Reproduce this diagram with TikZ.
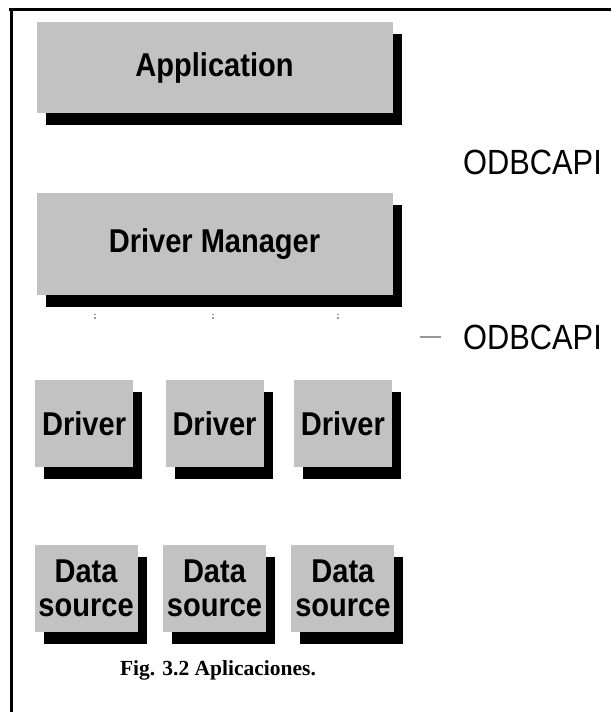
\documentclass[tikz,border=0pt]{standalone}
\usepackage{fontspec}
\setmainfont{Liberation Serif}
\newfontfamily\boxfont[FakeStretch=0.88]{Liberation Sans}
\usetikzlibrary{positioning, shadows}

\begin{document}
\begin{tikzpicture}[x=1pt, y=1pt,
    layer/.style={fill=black!24, inner sep=0pt, minimum height=87pt, align=center,
      font=\boxfont\bfseries\fontsize{33}{34}\selectfont,
      drop shadow={shadow xshift=9pt, shadow yshift=-12pt, fill=black, opacity=1}},
    wide/.style={layer, minimum width=356pt},
    small/.style={layer, minimum width=98pt},
    src/.style={layer, minimum width=103pt},
    api/.style={font=\boxfont\fontsize{35}{35}\selectfont, inner sep=0pt},
    stub/.style={black!40, line width=1.5pt},
    edgeline/.style={line width=3pt}]

\useasboundingbox (0,0) rectangle (611,712);

% Frame (top and left edge only)
\draw[edgeline] (9,702) -- (611,702);
\draw[edgeline] (11,703.5) -- (11,0);

% Application and Driver Manager
\node[wide, minimum height=91pt] (app) at (214.5,644.5) {Application};
\node[wide, minimum height=102pt, below=80pt of app] (mgr) {Driver Manager};

% Drivers
\node[small, below=84pt of mgr] (drv2) {Driver};
\node[small, left=32pt of drv2] (drv1) {Driver};
\node[small, right=30pt of drv2] (drv3) {Driver};

% Data sources
\node[src, below=78pt of drv2] (ds2) {Data\\source};
\node[src, left=25pt of ds2] (ds1) {Data\\source};
\node[src, right=25pt of ds2] (ds3) {Data\\source};

% API labels
\node[api] (api1) at (532.5,550) {ODBCAPI};
\node[api] (api2) at (532.5,375) {ODBCAPI};

% Faint marks
\foreach \x in {95,213,338}
  \draw[stub, dotted] ([yshift=-18pt]mgr.south -| \x,0) -- ++(0,-5);
\draw[stub] ([xshift=-22pt]api2.west) -- ++(-21,0);

% Caption
\node[font=\bfseries\fontsize{21.5}{22}\selectfont] (caption) at (218,42) {Fig. 3.2 Aplicaciones.};

\end{tikzpicture}
\end{document}
